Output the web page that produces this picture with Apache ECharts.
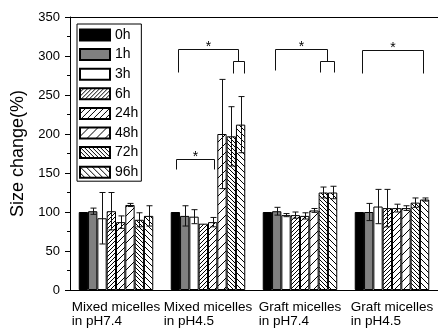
<!DOCTYPE html>
<html><head><meta charset="utf-8">
<script src="https://cdn.jsdelivr.net/npm/echarts@6/dist/echarts.min.js"></script>
<style>html,body{margin:0;padding:0;background:#fff}#c{width:438px;height:331px}</style>
</head><body><div id="c"></div>
<script>
// ---- data ----
const categories = ['Mixed micelles\nin pH7.4', 'Mixed micelles\nin pH4.5', 'Graft micelles\nin pH7.4', 'Graft micelles\nin pH4.5'];
const seriesNames = ['0h', '1h', '3h', '6h', '24h', '48h', '72h', '96h'];
const v0h  = [100, 100, 100, 100];
const v1h  = [101, 95, 101, 100];
const v3h  = [92, 94, 96, 107];
const v6h  = [101, 85, 96, 105];
const v24h = [87, 87, 95, 105];
const v48h = [109, 200, 102, 105];
const v72h = [90, 197, 125, 112];
const v96h = [95, 212, 125, 116];
const e0h  = [0, 0, 0, 0];
const e1h  = [4, 13, 5, 11];
const e3h  = [33, 9, 2, 22];
const e6h  = [24, 0, 4, 24];
const e24h = [8, 6, 4, 5];
const e48h = [2, 70, 2.5, 3];
const e72h = [9, 38, 7, 6];
const e96h = [13, 36, 8, 2];
const yTicks = [0, 50, 100, 150, 200, 250, 300, 350];
// significance brackets (positions in bar units from group start)
const brGroup = [1, 1, 2, 3];
const brLeft = [0.6, 0.8, 1.3, 0.8];
const brRight = [4.6, 7.25, 6.95, 7.3];
const brTop = [167.5, 308.6, 308.6, 307.3];
const brLeftEnd = [155, 279.5, 282, 277.8];
const brRightEnd = [155, 294, 293.6, 277.8];
const brSubLeft = [null, 6.65, 6.1, null];
const brSubRight = [null, 7.85, 7.7, null];
const brSubEnd = [null, 278, 280, null];

const values = [v0h, v1h, v3h, v6h, v24h, v48h, v72h, v96h];
const errors = [e0h, e1h, e3h, e6h, e24h, e48h, e72h, e96h];
const N = seriesNames.length;
const CAT_GAP = 0.19;
const FONT = "'Liberation Sans', Arial, sans-serif";

function pattern(dir, period) {
  const c = document.createElement('canvas');
  c.width = period; c.height = period;
  const g = c.getContext('2d');
  g.fillStyle = '#fff'; g.fillRect(0, 0, period, period);
  g.strokeStyle = '#000'; g.lineWidth = 1;
  for (let k = -1; k <= 1; k++) {
    g.beginPath();
    if (dir === '/') { g.moveTo(k * period, period); g.lineTo(k * period + period, 0); }
    else { g.moveTo(k * period, 0); g.lineTo(k * period + period, period); }
    g.stroke();
  }
  return { image: c, repeat: 'repeat' };
}
const fills = ['#000', '#808080', '#fff', pattern('/', 4), pattern('/', 6), pattern('/', 9), pattern('\\', 4), pattern('\\', 6)];

function barX(api, cat, pos) {
  const c = api.coord([cat, 0]);
  const band = api.size([1, 0])[0];
  const gw = band * (1 - CAT_GAP);
  const bw = gw / N;
  return c[0] - gw / 2 + bw * pos;
}

const errData = [];
values.forEach((arr, s) => arr.forEach((v, i) => { if (errors[s][i] > 0) errData.push([i, s, v, errors[s][i]]); }));
const brData = brGroup.map((g, i) => [g, i]);

const series = seriesNames.map((n, s) => ({
  name: n, type: 'bar', data: values[s], barGap: '0%', barCategoryGap: (CAT_GAP * 100) + '%',
  itemStyle: { color: fills[s], borderColor: '#000', borderWidth: 1 },
  z: 2
}));
series.push({
  type: 'custom', data: errData, z: 5, silent: true,
  encode: { x: 0, y: 2 },
  renderItem: (params, api) => {
    const cat = api.value(0), s = api.value(1), v = api.value(2), e = api.value(3);
    const x = Math.round(barX(api, cat, s + 0.5)) + 0.5;
    const yHi = api.coord([cat, v + e])[1], yLo = api.coord([cat, v - e])[1];
    const cw = 3;
    const st = { stroke: '#111', lineWidth: 1 };
    return { type: 'group', children: [
      { type: 'line', shape: { x1: x, y1: yHi, x2: x, y2: yLo }, style: st },
      { type: 'line', shape: { x1: x - cw, y1: yHi, x2: x + cw, y2: yHi }, style: st },
      { type: 'line', shape: { x1: x - cw, y1: yLo, x2: x + cw, y2: yLo }, style: st }
    ]};
  }
});
series.push({
  type: 'custom', data: brData, z: 6, silent: true,
  encode: { x: 0 },
  renderItem: (params, api) => {
    const cat = api.value(0), i = api.value(1);
    const X = p => Math.round(barX(api, cat, p)) + 0.5;
    const Y = v => Math.round(api.coord([cat, v])[1]) + 0.5;
    const xl = X(brLeft[i]), xr = X(brRight[i]), yt = Y(brTop[i]);
    const st = { stroke: '#111', lineWidth: 1, fill: null };
    const ch = [
      { type: 'polyline', shape: { points: [[xl, Y(brLeftEnd[i])], [xl, yt], [xr, yt], [xr, Y(brRightEnd[i])]] }, style: st },
      { type: 'text', style: { text: '*', x: (xl + xr) / 2, y: yt - 2, align: 'center', verticalAlign: 'middle', font: '14px ' + FONT, fill: '#000' } }
    ];
    if (brSubLeft[i] !== null) {
      const ys = Y(brRightEnd[i]), ye = Y(brSubEnd[i]);
      const sl = X(brSubLeft[i]), sr = X(brSubRight[i]);
      ch.push({ type: 'polyline', shape: { points: [[sl, ye], [sl, ys], [sr, ys], [sr, ye]] }, style: st });
    }
    return { type: 'group', children: ch };
  }
});

const chart = echarts.init(document.getElementById('c'), null, { renderer: 'canvas' });
chart.setOption({
  animation: false,
  backgroundColor: '#fff',
  textStyle: { fontFamily: FONT },
  grid: [
    { left: 70, right: -3, top: 17, bottom: 41 },
    { left: 70, right: -3, top: 17, bottom: 41 }
  ],
  legend: {
    data: seriesNames, orient: 'vertical', left: 77, top: 24,
    itemWidth: 30, itemHeight: 11, itemGap: 5.6, icon: 'rect',
    padding: [4, 3, 2, 2], borderColor: '#000', borderWidth: 1,
    textStyle: { fontSize: 14, lineHeight: 11, color: '#000', fontFamily: FONT }
  },
  xAxis: [
    { type: 'category', data: categories, gridIndex: 0, position: 'bottom',
      axisLine: { lineStyle: { color: '#000', width: 1 } },
      axisTick: { alignWithLabel: true, length: 5, lineStyle: { color: '#000' } },
      axisLabel: { interval: 0, hideOverlap: false, margin: 10, formatter: v => v.split('\n').map(t => '{a|' + t + '}').join('\n'),
        rich: { a: { fontSize: 13.5, lineHeight: 14, align: 'left', color: '#000', fontFamily: FONT } } } },
    { type: 'category', data: categories, gridIndex: 0, position: 'top',
      axisLine: { lineStyle: { color: '#000', width: 1 } },
      axisTick: { show: false }, axisLabel: { show: false } },
    { type: 'category', data: [1, 2, 3, 4, 5, 6, 7, 8], gridIndex: 1, position: 'bottom',
      axisLine: { show: false }, axisTick: { length: 3, lineStyle: { color: '#000' } }, axisLabel: { show: false } },
    { type: 'category', data: [1, 2, 3, 4, 5, 6, 7, 8], gridIndex: 1, position: 'top',
      axisLine: { show: false }, axisTick: { inside: true, length: 3, lineStyle: { color: '#000' } }, axisLabel: { show: false } }
  ],
  yAxis: [
    { type: 'value', gridIndex: 0, min: yTicks[0], max: yTicks[yTicks.length - 1], interval: yTicks[1] - yTicks[0],
      name: 'Size change(%)', nameLocation: 'middle', nameGap: 36,
      nameTextStyle: { fontSize: 18, color: '#000', fontFamily: FONT },
      axisLine: { show: true, lineStyle: { color: '#000', width: 1 } },
      axisTick: { show: true, length: 5, lineStyle: { color: '#000' } },
      minorTick: { show: true, splitNumber: 2, length: 3, lineStyle: { color: '#000' } },
      splitLine: { show: false },
      axisLabel: { fontSize: 13, color: '#000', margin: 10, fontFamily: FONT } },
    { type: 'value', gridIndex: 1, min: 0, max: 350, show: false }
  ],
  series: series
});
</script></body></html>
